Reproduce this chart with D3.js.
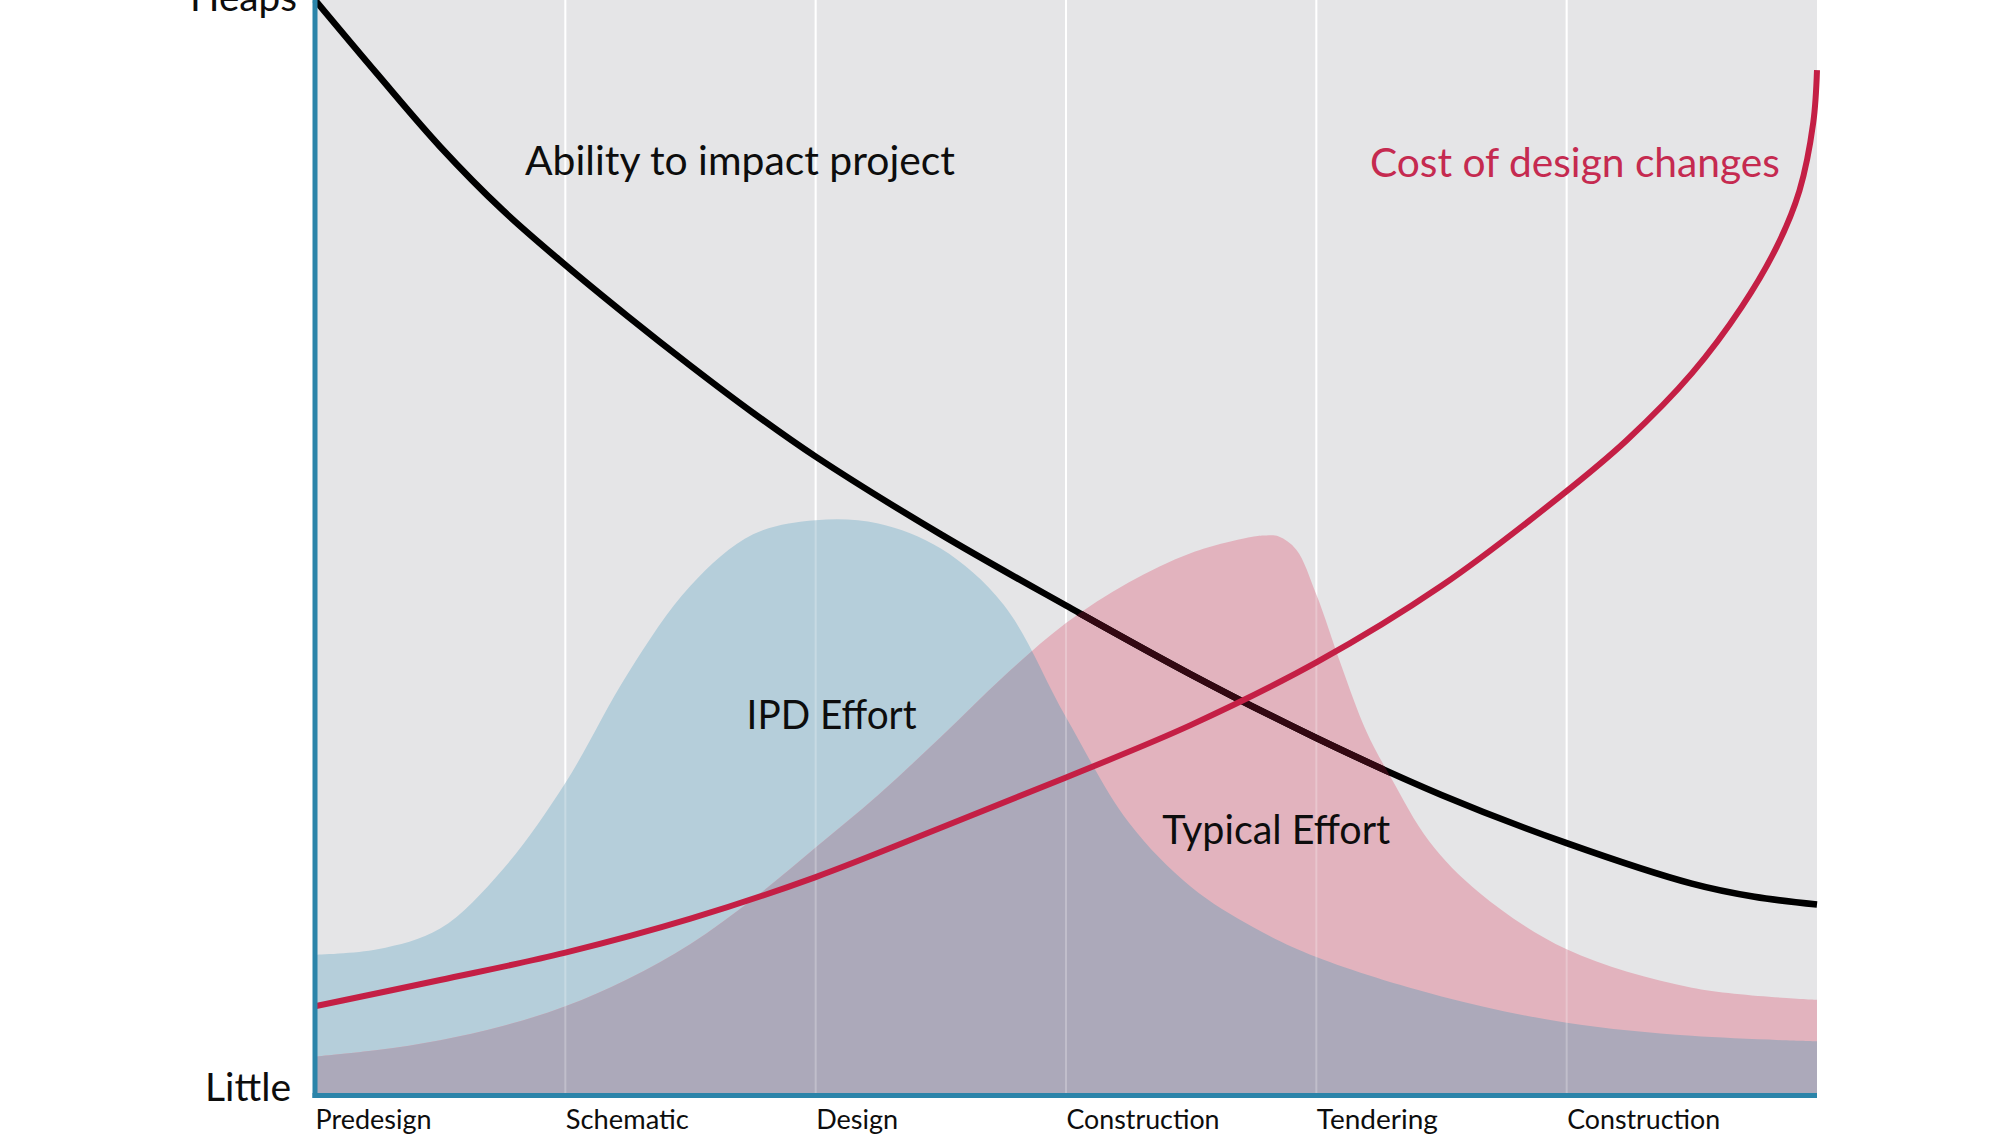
<!DOCTYPE html>
<html>
<head>
<meta charset="utf-8">
<script src="https://cdn.jsdelivr.net/npm/d3@7"></script>
<style>
  html, body { margin: 0; background: #fff; overflow: hidden; }
  text { font-family: Lato, "Open Sans", sans-serif; }
</style>
</head>
<body>
<div id="chart"></div>
<script>
// Phases along the bottom (x = phase index, 0..6)
var phases = ["Predesign", "Schematic", "Design", "Construction", "Tendering", "Construction"];
var levels = ["Little", "Heaps"];

// Ability to impact project (black line), y in 0..100
var abilityX = [0, 0.25, 0.5, 0.75, 1.0, 1.25, 1.5, 1.75, 2.0, 2.5, 3.0, 3.5, 4.0, 4.5, 5.0, 5.5, 5.75, 6.0];
var abilityY = [100, 93.2, 86.6, 80.8, 75.8, 71.1, 66.6, 62.3, 58.3, 51.2, 44.7, 38.4, 32.6, 27.4, 23.0, 19.3, 18.1, 17.4];

// Cost of design changes (red line)
var costX = [0, 0.5, 1.0, 1.5, 2.0, 2.5, 3.0, 3.5, 4.0, 4.5, 4.97, 5.24, 5.5, 5.7, 5.84, 5.93, 5.985, 6.0];
var costY = [8.1, 10.5, 13.0, 16.1, 19.9, 24.4, 29.0, 33.8, 39.5, 46.5, 54.6, 59.8, 65.9, 72.0, 77.5, 82.6, 88.8, 93.6];

// IPD Effort (blue area)
var ipdX = [0, 0.25, 0.5, 0.75, 1.0, 1.25, 1.5, 1.75, 2.0, 2.25, 2.5, 2.75, 3.0, 3.25, 3.5, 3.75, 4.0, 4.5, 5.0, 5.5, 6.0];
var ipdY = [12.8, 13.3, 15.2, 20.6, 28.5, 38.5, 46.5, 51.2, 52.5, 52.2, 49.9, 44.8, 34.5, 24.9, 19.0, 15.3, 12.6, 9.0, 6.6, 5.4, 4.9];

// Typical Effort (pink area)
var typicalX = [0, 0.25, 0.5, 0.75, 1.0, 1.25, 1.5, 1.75, 2.0, 2.25, 2.5, 2.75, 3.0, 3.25, 3.5, 3.75, 3.8, 3.85, 3.92, 4.0, 4.1, 4.2, 4.3, 4.45, 4.65, 5.0, 5.5, 6.0];
var typicalY = [3.5, 4.1, 5.0, 6.3, 8.1, 10.6, 13.8, 17.9, 22.6, 27.4, 32.7, 38.2, 43.1, 46.8, 49.5, 51.0, 51.1, 51.0, 49.8, 45.7, 39.2, 33.2, 28.9, 23.2, 18.5, 13.3, 9.8, 8.7];

var width = 2016,
    height = 1134;

var x = d3.scaleLinear().domain([0, 6]).range([315, 1817]);
var y = d3.scaleLinear().domain([0, 100]).range([1095, 0]);

function zip(xs, ys) {
    return xs.map(function(v, i) { return [v, ys[i]]; });
}

var ability = zip(abilityX, abilityY),
    cost = zip(costX, costY),
    ipd = zip(ipdX, ipdY),
    typical = zip(typicalX, typicalY);

// in-chart labels, placed in data units
var notes = [
    { text: "Ability to impact project", x: 0.839, y: 84.0, anchor: "start", w: 430, fill: "#0d0d0d" },
    { text: "Cost of design changes", x: 5.852, y: 83.8, anchor: "end", w: 410, fill: "#c52a50" },
    { text: "IPD Effort", x: 1.724, y: 33.4, anchor: "start", w: 170, fill: "#0d0d0d" },
    { text: "Typical Effort", x: 3.384, y: 22.9, anchor: "start", w: 228, fill: "#0d0d0d" }
];
var tickWidths = [116, 123, 82, 153, 121, 153];

var smooth = d3.curveCatmullRom.alpha(0.5);

var area = d3.area()
    .curve(smooth)
    .x(function(d) { return x(d[0]); })
    .y0(y(0))
    .y1(function(d) { return y(d[1]); });

var line = d3.line()
    .curve(smooth)
    .x(function(d) { return x(d[0]); })
    .y(function(d) { return y(d[1]); });

var svg = d3.select("#chart").append("svg")
    .attr("width", width)
    .attr("height", height);

var defs = svg.append("defs");
defs.append("clipPath").attr("id", "clip-ipd")
    .append("path").attr("d", area(ipd));
defs.append("clipPath").attr("id", "clip-typical")
    .append("path").attr("d", area(typical));

// plot background
svg.append("rect")
    .attr("x", x(0))
    .attr("y", y(100))
    .attr("width", x(6) - x(0))
    .attr("height", y(0) - y(100))
    .attr("fill", "#e5e5e7");

var grid = d3.range(1, phases.length);

svg.append("g")
    .selectAll("line")
    .data(grid)
    .enter().append("line")
    .attr("x1", function(d) { return x(d); })
    .attr("x2", function(d) { return x(d); })
    .attr("y1", y(100))
    .attr("y2", y(0))
    .attr("stroke", "#fff")
    .attr("stroke-width", 2);

// effort areas
svg.append("path").attr("d", area(ipd)).attr("fill", "#b5ceda");
svg.append("path").attr("d", area(typical)).attr("fill", "#e2b3be");
svg.append("path").attr("d", area(typical)).attr("fill", "#aca9ba")
    .attr("clip-path", "url(#clip-ipd)");

// faint grid showing through the areas
svg.append("g")
    .selectAll("line")
    .data(grid)
    .enter().append("line")
    .attr("x1", function(d) { return x(d); })
    .attr("x2", function(d) { return x(d); })
    .attr("y1", y(100))
    .attr("y2", y(0))
    .attr("stroke", "#fff")
    .attr("stroke-opacity", 0.25)
    .attr("stroke-width", 2);

// lines
svg.append("path")
    .attr("d", line(ability))
    .attr("fill", "none")
    .attr("stroke", "#000")
    .attr("stroke-width", 6.5);
svg.append("path")
    .attr("d", line(ability))
    .attr("fill", "none")
    .attr("stroke", "#330812")
    .attr("stroke-width", 6.5)
    .attr("clip-path", "url(#clip-typical)");
svg.append("path")
    .attr("d", line(cost))
    .attr("fill", "none")
    .attr("stroke", "#c41f45")
    .attr("stroke-width", 6);

// labels
svg.append("g")
    .selectAll("text")
    .data(notes)
    .enter().append("text")
    .attr("x", function(d) { return x(d.x); })
    .attr("y", function(d) { return y(d.y); })
    .attr("text-anchor", function(d) { return d.anchor; })
    .attr("fill", function(d) { return d.fill; })
    .attr("font-size", 40)
    .attr("textLength", function(d) { return d.w; })
    .attr("lengthAdjust", "spacingAndGlyphs")
    .text(function(d) { return d.text; });

// bottom axis
var xAxis = d3.axisBottom(x)
    .tickValues(d3.range(phases.length))
    .tickFormat(function(i) { return phases[i]; })
    .tickSize(0)
    .tickSizeOuter(0);

var gx = svg.append("g")
    .attr("transform", "translate(0," + (y(0) + 0.5) + ")")
    .call(xAxis);
gx.select(".domain")
    .attr("d", "M" + (x(0) - 2.5) + ",0H" + x(6))
    .attr("stroke", "#2b84a9")
    .attr("stroke-width", 5);
gx.selectAll(".tick text")
    .attr("y", 33)
    .attr("dy", 0)
    .attr("text-anchor", "start")
    .attr("fill", "#0d0d0d")
    .attr("font-size", 26)
    .attr("font-family", "Lato, 'Open Sans', sans-serif")
    .attr("textLength", function(i) { return tickWidths[i]; })
    .attr("lengthAdjust", "spacingAndGlyphs");

// left axis
var yAxis = d3.axisLeft(y)
    .tickValues([0, 100])
    .tickFormat(function(d) { return d === 0 ? levels[0] : levels[1]; })
    .tickSize(0)
    .tickSizeOuter(0);

var gy = svg.append("g")
    .attr("transform", "translate(" + x(0) + ",0)")
    .call(yAxis);
gy.select(".domain")
    .attr("d", "M0," + (y(100) - 2) + "V" + (y(0) + 3))
    .attr("stroke", "#2b84a9")
    .attr("stroke-width", 5);
gy.selectAll(".tick text")
    .attr("x", function(d) { return d === 0 ? -24 : -18; })
    .attr("dy", function(d) { return d === 0 ? 5 : 10; })
    .attr("fill", "#0d0d0d")
    .attr("font-size", 38)
    .attr("font-family", "Lato, 'Open Sans', sans-serif")
    .attr("textLength", function(d) { return d === 0 ? 86 : 107; })
    .attr("lengthAdjust", "spacingAndGlyphs");
</script>
</body>
</html>
